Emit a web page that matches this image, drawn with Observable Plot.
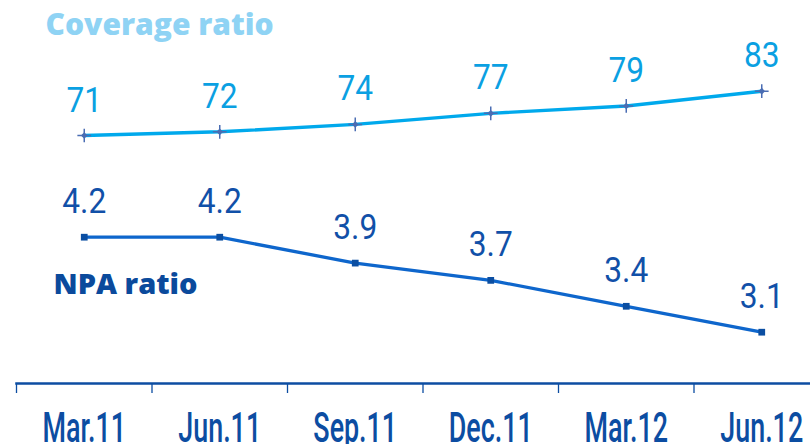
<!DOCTYPE html>
<html><head><meta charset="utf-8">
<script src="https://cdn.jsdelivr.net/npm/d3@7"></script>
<script src="https://cdn.jsdelivr.net/npm/@observablehq/plot@0.6"></script>
<style>
html,body{margin:0;padding:0;background:#fff;}
#chart{position:relative;width:810px;height:444px;overflow:hidden;}
#chart svg{position:absolute;left:0;top:0;}
</style></head><body><div id="chart"></div>
<script>
const categories = ["Mar.11","Jun.11","Sep.11","Dec.11","Mar.12","Jun.12"];
const coverageRatio = [71, 72, 74, 77, 79, 83];
const npaRatio = [4.2, 4.2, 3.9, 3.7, 3.4, 3.1];
const seriesTitles = ["Coverage ratio", "NPA ratio"];

const covLine = "#00a9ec", covLabel = "#0aa0e2", covMarker = "#4a6db3", covTitle = "#8fd3f4";
const npaLine = "#0e66cc", npaMarker = "#0b4ea2", npaLabel = "#1150a8", npaTitle = "#0b4a9c", axisColor = "#0c4da2";

const idx = d3.range(categories.length);
const edges = d3.range(categories.length + 1).map(i => i - 0.5);
const xOpts = {type: "linear", domain: [-0.5, categories.length - 0.5], range: [16, 829], label: null};

const covData = idx.map(i => ({i, v: coverageRatio[i]}));
const npaData = idx.map(i => ({i, v: npaRatio[i]}));

const plotA = Plot.plot({
  width: 810, height: 444, marginTop: 0, marginLeft: 0, marginRight: 0, marginBottom: 0,
  x: {...xOpts, axis: null},
  y: {domain: [71, 83], range: [135, 90.7], axis: null, label: null},
  style: {background: "transparent", fontFamily: "Roboto", overflow: "visible"},
  marks: [
    Plot.line(covData, {x: "i", y: "v", stroke: covLine, strokeWidth: 3.4}),
    Plot.dot(covData, {x: "i", y: "v", symbol: "diamond2", r: 3, fill: covMarker}),
    Plot.dot(covData, {x: "i", y: "v", symbol: "plus", r: 4.5, stroke: covMarker, strokeWidth: 1.5}),
    Plot.text(covData, {x: "i", y: "v", text: d => String(d.v), lineAnchor: "bottom", dy: -24, fontSize: 36, fill: covLabel}),
    Plot.text([seriesTitles[0]], {frameAnchor: "top-left", textAnchor: "start", lineAnchor: "top", dx: 45, dy: 13,
      fontFamily: "Open Sans", fontWeight: 800, fontSize: 30, fill: covTitle})
  ]
});

const plotB = Plot.plot({
  width: 810, height: 444, marginTop: 0, marginLeft: 16, marginRight: 0, marginBottom: 61,
  x: {...xOpts},
  y: {domain: [3.1, 4.2], range: [331.7, 236.7], axis: null, label: null},
  style: {background: "transparent", fontFamily: "Roboto", color: axisColor, overflow: "visible"},
  marks: [
    Plot.frame({anchor: "bottom", stroke: axisColor, strokeWidth: 2.5}),
    Plot.axisX({ticks: edges, tickSize: 10, tickFormat: () => "", strokeWidth: 1.3, label: null}),
    Plot.axisX({ticks: idx, tickSize: 0, tickPadding: 29, tickFormat: i => categories[i], fontSize: 42, fontWeight: 500, label: null}),
    Plot.line(npaData, {x: "i", y: "v", stroke: npaLine, strokeWidth: 3.3}),
    Plot.dot(npaData, {x: "i", y: "v", symbol: "square", r: 3.8, fill: npaMarker}),
    Plot.text(npaData, {x: "i", y: "v", text: d => d.v.toFixed(1), lineAnchor: "bottom", dy: -24, fontSize: 36, fill: npaLabel}),
    Plot.text([seriesTitles[1]], {frameAnchor: "top-left", textAnchor: "start", lineAnchor: "top", dx: 37, dy: 273,
      fontFamily: "Open Sans", fontWeight: 800, fontSize: 29, fill: npaTitle})
  ]
});

function squeeze(svg) {
  svg.querySelectorAll("text").forEach(t => {
    const s = t.textContent;
    if (!s || seriesTitles.includes(s)) return;
    const k = categories.includes(s) ? 0.64 : 0.88;
    const x = parseFloat(t.getAttribute("x")) || 0;
    const tr = t.getAttribute("transform") || "";
    t.setAttribute("transform", `${tr} translate(${x},0) scale(${k},1) translate(${-x},0)`);
  });
}
squeeze(plotA); squeeze(plotB);

const chart = document.getElementById("chart");
chart.append(plotB, plotA);
</script>
</body></html>
